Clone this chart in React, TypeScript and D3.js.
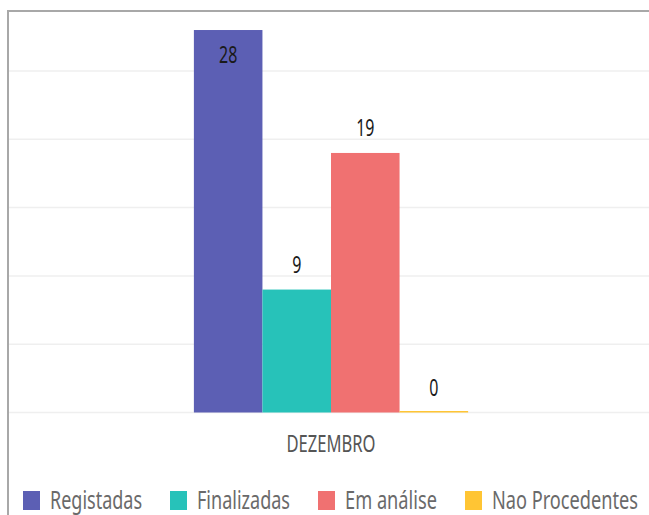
import React from "react";
import * as d3 from "d3";

const categories = ["DEZEMBRO"];
const seriesNames = ["Registadas", "Finalizadas", "Em análise", "Nao Procedentes"];
const seriesValues = [28, 9, 19, 0];
const gridValues = [0, 5, 10, 15, 20, 25];

// styles
const COLORS = ["#5c5fb4", "#27c2b9", "#f07171", "#ffc534"];
const LEGEND_TEXT_W = [92, 93, 92, 146];
const W = 649;
const H = 515;
const FONT = "'Noto Sans', sans-serif";

export default function App() {
  const x0 = d3.scaleBand<string>().domain(categories).range([8, 654]).paddingInner(0.404).paddingOuter(0.404);
  const x1 = d3.scaleBand<string>().domain(seriesNames).range([0, x0.bandwidth()]).padding(0);
  const y = d3.scaleLinear().domain([0, 30]).range([412.5, 2.7]);

  // legend cumulative positions
  let lx = 23;
  const legendItems = seriesNames.map((name, i) => {
    const item = { name, x: lx, color: COLORS[i], tw: LEGEND_TEXT_W[i] };
    lx += 17 + 10 + LEGEND_TEXT_W[i] + 28;
    return item;
  });

  return (
    <svg width={W} height={H} style={{ position: "fixed", left: 0, top: 0, background: "#fff" }} fontFamily={FONT}>
      <rect x={0} y={0} width={W} height={H} fill="#fff" />
      {/* gridlines */}
      {gridValues.map((v) => (
        <line key={v} x1={9} x2={W} y1={y(v)} y2={y(v)} stroke="#efefef" strokeWidth={1.5} />
      ))}
      {/* border */}
      <path d={`M8,${H} L8,11 L${W},11`} fill="none" stroke="#a8a8a8" strokeWidth={2} />
      {categories.map((cat) => (
        <g key={cat} transform={`translate(${x0(cat)},0)`}>
          {seriesNames.map((s, i) => {
            const v = seriesValues[i];
            const top = y(v);
            const h = Math.max(y(0) - top, 1.5);
            const cx = (x1(s) as number) + x1.bandwidth() / 2;
            const inside = top - 34 < 11;
            const ly = inside ? top + 33 : top - 17;
            return (
              <g key={s}>
                <rect x={x1(s)} y={y(0) - h} width={x1.bandwidth()} height={h} fill={COLORS[i]} />
                <text
                  transform={`translate(${cx},${ly}) scale(0.68,1)`}
                  textAnchor="middle"
                  fontSize={23.5}
                  fill="#1a1a1a"
                >
                  {v}
                </text>
              </g>
            );
          })}
          <text
            x={x0.bandwidth() / 2}
            y={452}
            textAnchor="middle"
            fontSize={23.4}
            fill="#555"
            textLength={89}
            lengthAdjust="spacingAndGlyphs"
          >
            {cat}
          </text>
        </g>
      ))}
      {/* legend */}
      {legendItems.map((it) => (
        <g key={it.name}>
          <rect x={it.x} y={491} width={17} height={19} fill={it.color} />
          <text
            x={it.x + 27}
            y={508.5}
            fontSize={24.5}
            fill="#6a6a6a"
            textLength={it.tw}
            lengthAdjust="spacingAndGlyphs"
          >
            {it.name}
          </text>
        </g>
      ))}
    </svg>
  );
}
